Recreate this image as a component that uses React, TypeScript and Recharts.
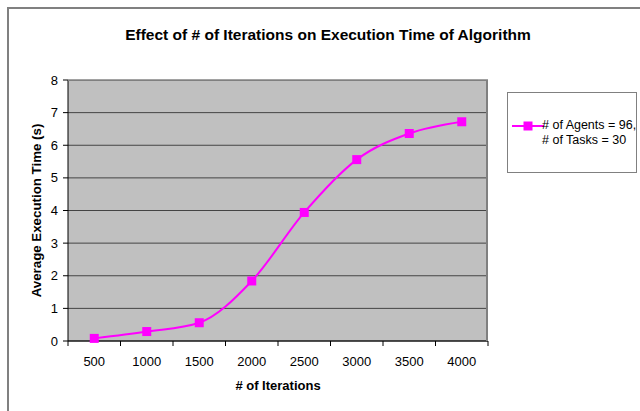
import { CartesianGrid, Line, LineChart, XAxis, YAxis } from "recharts";

const iterations = [500, 1000, 1500, 2000, 2500, 3000, 3500, 4000];
const avgTime = [0.08, 0.29, 0.56, 1.84, 3.94, 5.56, 6.36, 6.72];
const yTicks = [0, 1, 2, 3, 4, 5, 6, 7, 8];
const seriesName = ["# of Agents = 96,", "# of Tasks = 30"];

const data = iterations.map((it, i) => ({ it, time: avgTime[i] }));

const FONT = '"Liberation Sans", Arial, sans-serif';
const MAGENTA = "#ff00ff";

function XTick(props: any) {
  const { x, y, payload, index, width } = props;
  const band = width / iterations.length;
  const last = index === iterations.length - 1;
  return (
    <g>
      <line x1={x - band / 2} x2={x - band / 2} y1={y - 8} y2={y - 3} stroke="#000" />
      {last && <line x1={x + band / 2} x2={x + band / 2} y1={y - 8} y2={y - 3} stroke="#000" />}
      <text x={x} y={y + 17} textAnchor="middle" fontSize={13} fill="#000" fontFamily={FONT}>
        {payload.value}
      </text>
    </g>
  );
}

function SquareDot(props: any) {
  const { cx, cy } = props;
  return <rect x={cx - 4.5} y={cy - 4.5} width={9} height={9} fill={MAGENTA} />;
}

function LegendBox() {
  return (
    <div
      style={{
        position: "absolute",
        left: 507,
        top: 92,
        width: 130,
        height: 81,
        border: "1px solid #808080",
        background: "#fff",
        boxSizing: "border-box",
        fontFamily: FONT,
        fontSize: 12.5,
        color: "#000",
      }}
    >
      <svg width={36} height={12} style={{ position: "absolute", left: 4, top: 27 }}>
        <line x1={0} x2={32} y1={6} y2={6} stroke={MAGENTA} strokeWidth={2} />
        <rect x={11.5} y={1.5} width={9} height={9} fill={MAGENTA} />
      </svg>
      <div style={{ position: "absolute", left: 34, top: 25, lineHeight: "14.5px", whiteSpace: "nowrap" }}>
        {seriesName[0]}
        <br />
        {seriesName[1]}
      </div>
    </div>
  );
}

export default function App() {
  return (
    <div style={{ position: "absolute", left: 0, top: 0, width: 640, height: 411, background: "#fff", overflow: "hidden" }}>
      <div
        style={{
          position: "absolute",
          left: 7,
          top: 7,
          width: 700,
          height: 500,
          borderTop: "2px solid #808080",
          borderLeft: "2px solid #808080",
          boxSizing: "border-box",
        }}
      />
      <div
        style={{
          position: "absolute",
          left: 0,
          top: 26,
          width: 656,
          textAlign: "center",
          fontFamily: FONT,
          fontWeight: "bold",
          fontSize: 15.5,
          color: "#000",
        }}
      >
        Effect of # of Iterations on Execution Time of Algorithm
      </div>
      <div style={{ position: "absolute", left: 0, top: 0 }}>
        <LineChart width={640} height={411} data={data} margin={{ top: 80, right: 152, bottom: 0, left: 0 }}>
          <CartesianGrid vertical={false} fill="#c0c0c0" stroke="#444" horizontalValues={yTicks} />
          <XAxis
            dataKey="it"
            type="number"
            domain={[250, 4250]}
            ticks={iterations}
            height={70}
            axisLine={{ stroke: "#000" }}
            tickLine={false}
            tick={<XTick />}
            interval={0}
            label={{
              value: "# of Iterations",
              position: "insideBottom",
              offset: 21,
              fontFamily: FONT,
              fontWeight: "bold",
              fontSize: 13,
              fill: "#000",
            }}
          />
          <YAxis
            domain={[0, 8]}
            ticks={yTicks}
            width={68}
            axisLine={{ stroke: "#000" }}
            tickLine={{ stroke: "#000" }}
            tickSize={5}
            tickMargin={5}
            tick={{ fontFamily: FONT, fontSize: 13, fill: "#000" }}
            interval={0}
            label={{
              value: "Average Execution Time (s)",
              angle: -90,
              position: "insideLeft",
              offset: 36,
              style: { textAnchor: "middle" },
              fontFamily: FONT,
              fontWeight: "bold",
              fontSize: 13.3,
              fill: "#000",
            }}
          />
          <Line
            type="monotone"
            dataKey="time"
            stroke={MAGENTA}
            strokeWidth={2}
            dot={<SquareDot />}
            activeDot={false}
            isAnimationActive={false}
          />
        </LineChart>
      </div>
      <div
        style={{
          position: "absolute",
          left: 68,
          top: 80,
          width: 420,
          height: 261,
          borderTop: "1px solid #808080",
          borderRight: "2px solid #808080",
          boxSizing: "border-box",
          pointerEvents: "none",
        }}
      />
      <LegendBox />
    </div>
  );
}
